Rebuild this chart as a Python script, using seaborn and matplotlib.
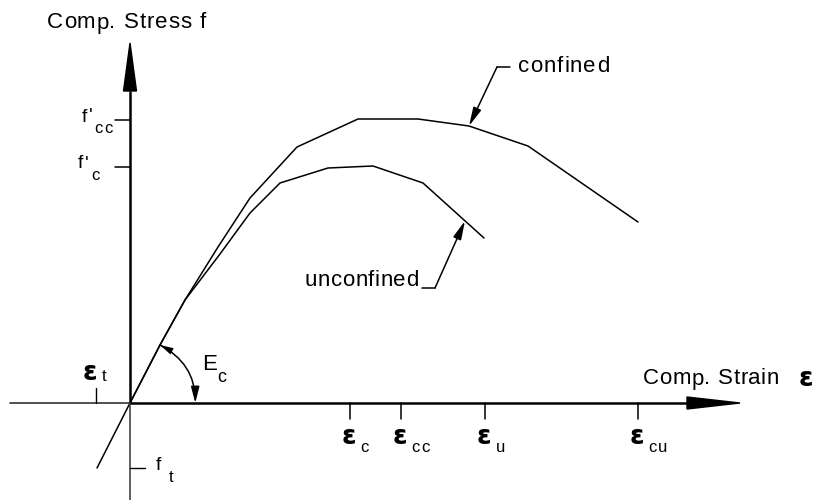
import numpy as np
import pandas as pd
import matplotlib
matplotlib.use("Agg")
import matplotlib.pyplot as plt
from matplotlib.patches import FancyArrowPatch, Polygon
from matplotlib.font_manager import FontProperties
from matplotlib.textpath import TextToPath
import seaborn as sns

# ---- stress-strain data (arbitrary units) ----
confined_strain = [-0.33, 0.00, 0.30, 0.55, 0.88, 1.20, 1.67, 2.28, 2.88, 3.39, 3.98, 5.08]
confined_stress = [-0.65, 0.00, 0.58, 1.03, 1.56, 2.05, 2.56, 2.84, 2.84, 2.77, 2.57, 1.81]

unconfined_strain = [0.00, 0.30, 0.55, 0.90, 1.20, 1.50, 1.98, 2.43, 2.93, 3.54]
unconfined_stress = [0.00, 0.58, 1.03, 1.49, 1.90, 2.20, 2.35, 2.37, 2.20, 1.65]

# characteristic points marked on the axes
strain_ticks = [2.20, 2.71, 3.55, 5.08]
strain_subs = ["c", "cc", "u", "cu"]
stress_ticks = [2.83, 2.36]
stress_subs = ["cc", "c"]
tension_strain = -0.34
tension_stress = -0.65

XLIM = (-1.30, 6.85)
YLIM = (-0.97, 4.03)

sns.set_theme(style="white")
plt.rcParams["font.family"] = ["Liberation Sans", "DejaVu Sans"]

fig = plt.figure(figsize=(8.15, 5.0), dpi=100)
ax = fig.add_axes([0, 0, 1, 1])
ax.set_xlim(*XLIM)
ax.set_ylim(*YLIM)
ax.axis("off")

df = pd.concat([
    pd.DataFrame({"strain": confined_strain, "stress": confined_stress, "curve": "confined"}),
    pd.DataFrame({"strain": unconfined_strain, "stress": unconfined_stress, "curve": "unconfined"}),
])
sns.lineplot(data=df, x="strain", y="stress", units="curve", estimator=None,
             sort=False, color="black", lw=1.1, ax=ax, legend=False)

# ---- axes with arrow heads ----
ink = "black"
ax.plot([0, 5.57], [0, 0], color=ink, lw=1.8, solid_capstyle="butt")
ax.plot([-1.20, 0], [0, 0], color="#333333", lw=1.2)
ax.plot([0, 0], [0, 3.12], color=ink, lw=1.8, solid_capstyle="butt")
ax.plot([0, 0], [YLIM[0], 0], color="#333333", lw=1.1)
ax.add_patch(Polygon([[5.57, 0.06], [6.10, 0.0], [5.57, -0.06]], closed=True, color=ink))
ax.add_patch(Polygon([[-0.065, 3.12], [0.0, 3.60], [0.065, 3.12]], closed=True, color=ink))

# ---- ticks ----
for s in strain_ticks:
    ax.plot([s, s], [0, -0.155], color=ink, lw=1.1)
ax.plot([tension_strain, tension_strain], [0, 0.15], color=ink, lw=1.0)
for f in stress_ticks:
    ax.plot([-0.15, 0], [f, f], color=ink, lw=1.1)
ax.plot([0, 0.15], [tension_stress, tension_stress], color=ink, lw=1.0)


def tracked(x, y, s, size, track=0.0, va="center"):
    """Draw text letter by letter with extra spacing (track in data units)."""
    fp = FontProperties(family=plt.rcParams["font.family"], size=size)
    t2p = TextToPath()
    for ch in s:
        ax.text(x, y, ch, fontproperties=fp, ha="left", va=va, color=ink)
        w, _, _ = t2p.get_text_width_height_descent(ch if ch != " " else "a", fp, ismath=False)
        if ch == " ":
            w *= 0.55
        x += w * fig.dpi / 72.0 / 100.0 + track


EPS = dict(fontsize=19, fontweight="bold", family=["DejaVu Sans"], color=ink)

# axis titles
tracked(-0.83, 3.80, "Comp. Stress f", 16, track=0.008)
tracked(5.13, 0.24, "Comp. Strain", 16, track=0.005)
ax.text(6.76, 0.235, "ε", ha="center", va="center", **EPS)

# strain tick labels
for s, sub in zip(strain_ticks, strain_subs):
    ax.text(s - 0.01, -0.345, "ε", ha="center", va="center", **EPS)
    tracked(s + 0.105, -0.44, sub, 12, track=0.015)

# tension strain label
ax.text(-0.40, 0.30, "ε", ha="center", va="center", **EPS)
tracked(-0.28, 0.265, "t", 12)

# stress tick labels
tracked(-0.48, 2.86, "f'", 14, track=0.01)
tracked(-0.355, 2.745, stress_subs[0], 12, track=0.015)
tracked(-0.52, 2.39, "f'", 14, track=0.01)
tracked(-0.385, 2.27, stress_subs[1], 12)

# tension stress label
tracked(0.26, -0.63, "f", 14)
tracked(0.39, -0.745, "t", 12)

# initial modulus arc
tip_line = (confined_strain[2], confined_stress[2])
r = np.hypot(*tip_line)
ax.add_patch(FancyArrowPatch(tip_line, (r, 0.0), connectionstyle="arc3,rad=-0.3",
                             arrowstyle="-|>,head_length=0.7,head_width=0.18",
                             mutation_scale=14, lw=1.1, color=ink, shrinkA=0, shrinkB=0))
ax.add_patch(FancyArrowPatch((r, 0.0), tip_line, connectionstyle="arc3,rad=0.3",
                             arrowstyle="-|>,head_length=0.7,head_width=0.18",
                             mutation_scale=14, lw=0.01, color=ink, shrinkA=0, shrinkB=0))
tracked(0.72, 0.38, "E", 16)
tracked(0.87, 0.25, "c", 13)

# curve labels with leaders
tracked(3.88, 3.36, "confined", 16, track=0.01)
c_tip = (confined_strain[9], confined_stress[9])
ax.plot([3.80, 3.67], [3.36, 3.36], color=ink, lw=1.1)
ax.annotate("", xy=c_tip, xytext=(3.67, 3.36),
            arrowprops=dict(arrowstyle="-|>,head_length=0.8,head_width=0.18",
                            mutation_scale=14, lw=1.1, color=ink, shrinkA=0, shrinkB=0))

tracked(1.75, 1.23, "unconfined", 16, track=0.005)
u_x = 3.35
u_tip = (u_x, np.interp(u_x, unconfined_strain[-2:], unconfined_stress[-2:]))
ax.plot([2.92, 3.05], [1.15, 1.15], color=ink, lw=1.1)
ax.annotate("", xy=u_tip, xytext=(3.05, 1.15),
            arrowprops=dict(arrowstyle="-|>,head_length=0.8,head_width=0.18",
                            mutation_scale=14, lw=1.1, color=ink, shrinkA=0, shrinkB=0))

fig.savefig("out.png", dpi=100, facecolor="white")
